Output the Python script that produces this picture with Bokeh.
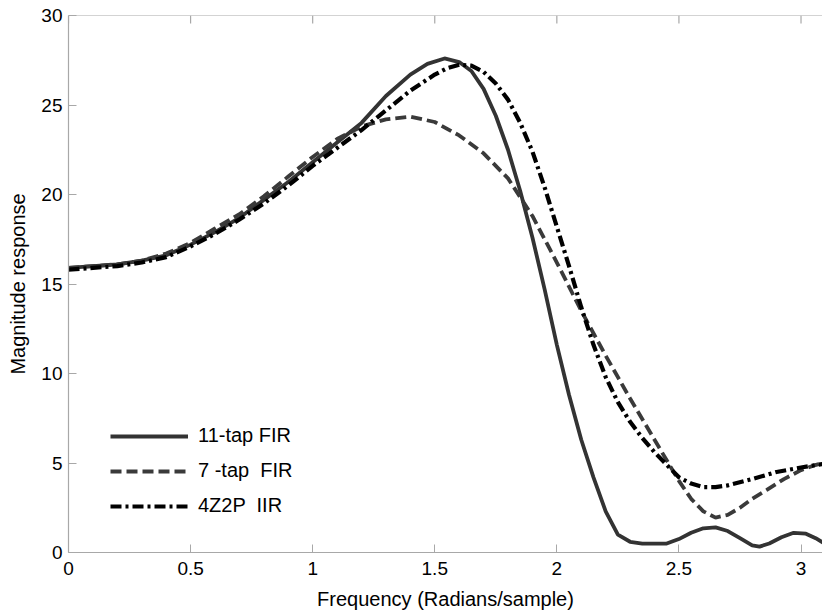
import math
from bokeh.plotting import figure
from bokeh.models import Range1d, Legend, LegendItem, FixedTicker, Span
from bokeh.embed import file_html
from bokeh.resources import INLINE

# 11-tap FIR (solid)
fir11_x = [0.0, 0.1, 0.2, 0.3, 0.4, 0.5, 0.6, 0.7, 0.8, 0.9, 1.0, 1.1, 1.2, 1.3, 1.4, 1.47, 1.54,
           1.6, 1.65, 1.70, 1.75, 1.8, 1.85, 1.9, 1.95, 2.0, 2.05, 2.1, 2.15, 2.2, 2.25, 2.3, 2.35,
           2.4, 2.45, 2.5, 2.55, 2.6, 2.65, 2.7, 2.75, 2.8, 2.83, 2.87, 2.92, 2.97, 3.02, 3.06, 3.09]
fir11_y = [15.9, 16.0, 16.1, 16.3, 16.6, 17.2, 17.9, 18.7, 19.7, 20.7, 21.8, 22.9, 24.0, 25.5, 26.7, 27.3, 27.6,
           27.4, 26.9, 25.9, 24.4, 22.5, 20.2, 17.6, 14.7, 11.6, 8.8, 6.3, 4.2, 2.3, 1.0, 0.6, 0.5,
           0.5, 0.5, 0.75, 1.1, 1.35, 1.4, 1.2, 0.8, 0.4, 0.33, 0.5, 0.85, 1.1, 1.05, 0.8, 0.55]

# 7-tap FIR (dashed)
fir7_x = [0.0, 0.1, 0.2, 0.3, 0.4, 0.5, 0.6, 0.7, 0.8, 0.9, 1.0, 1.1, 1.2, 1.3, 1.4, 1.5, 1.6, 1.7,
          1.8, 1.9, 2.0, 2.1, 2.2, 2.3, 2.4, 2.5, 2.55, 2.6, 2.65, 2.7, 2.75, 2.8, 2.86, 2.93, 3.0, 3.05, 3.09]
fir7_y = [15.9, 16.0, 16.1, 16.3, 16.7, 17.3, 18.1, 18.9, 19.9, 21.0, 22.1, 23.1, 23.8, 24.2, 24.35, 24.05, 23.3, 22.3,
          20.9, 18.8, 16.2, 13.5, 11.0, 8.6, 6.3, 4.0, 3.0, 2.3, 1.95, 2.1, 2.5, 3.0, 3.5, 4.1, 4.6, 4.85, 5.0]

# 4Z2P IIR (dash-dot)
iir_x = [0.0, 0.1, 0.2, 0.3, 0.4, 0.5, 0.6, 0.7, 0.8, 0.9, 1.0, 1.1, 1.2, 1.3, 1.4, 1.5, 1.55, 1.6,
         1.65, 1.70, 1.75, 1.8, 1.85, 1.9, 1.95, 2.0, 2.05, 2.1, 2.15, 2.2, 2.25, 2.3, 2.35, 2.4, 2.45,
         2.5, 2.55, 2.6, 2.65, 2.7, 2.8, 2.9, 3.0, 3.09]
iir_y = [15.8, 15.9, 16.0, 16.2, 16.5, 17.1, 17.8, 18.6, 19.5, 20.5, 21.6, 22.6, 23.6, 24.7, 25.8, 26.7, 27.05, 27.25,
         27.2, 26.85, 26.2, 25.3, 24.0, 22.4, 20.4, 18.2, 16.0, 13.7, 11.6, 9.8, 8.4, 7.3, 6.4, 5.6, 4.9,
         4.2, 3.85, 3.65, 3.65, 3.75, 4.1, 4.5, 4.75, 4.95]

labels = ["11-tap FIR", "7 -tap  FIR", "4Z2P  IIR"]
x_ticks = [0, 0.5, 1, 1.5, 2, 2.5, 3]
y_ticks = [0, 5, 10, 15, 20, 25, 30]
y_top = 30

FONT = "Liberation Sans"
AX = "#a8a8a8"

p = figure(width=822, height=612, output_backend="svg", toolbar_location=None,
           x_range=Range1d(0, 3.088), y_range=Range1d(0, y_top),
           min_border_left=68, min_border_top=15, min_border_right=0, min_border_bottom=59,
           x_axis_label="Frequency (Radians/sample)", y_axis_label="Magnitude response")
p.outline_line_color = None
p.grid.visible = False
p.background_fill_color = "white"
p.border_fill_color = "white"

r1 = p.line(fir11_x, fir11_y, line_color="#333333", line_width=3.8)
r2 = p.line(fir7_x, fir7_y, line_color="#3a3a3a", line_width=3.8, line_dash="11 5")
r3 = p.line(iir_x, iir_y, line_color="#000000", line_width=4.2, line_dash="11 4 3 4")

# top border of the box with inward ticks
p.add_layout(Span(location=y_top, dimension="width", line_color=AX, line_width=1.2))
p.ray(x=x_ticks, y=[y_top] * len(x_ticks), length=8, length_units="screen",
      angle=-math.pi / 2, line_color=AX, line_width=1.2)

xa = p.below[0]
ya = p.left[0]
for ax in [xa, ya]:
    ax.axis_line_color = AX
    ax.axis_line_width = 1.2
    ax.major_tick_line_color = AX
    ax.major_tick_in = 8
    ax.major_tick_out = 0
    ax.minor_tick_line_color = None
    ax.major_label_text_font = FONT
    ax.major_label_text_font_size = "19px"
    ax.major_label_text_color = "black"
    ax.axis_label_text_font = FONT
    ax.axis_label_text_font_size = "20px"
    ax.axis_label_text_font_style = "normal"
    ax.axis_label_text_color = "black"

xa.ticker = FixedTicker(ticks=x_ticks)
ya.ticker = FixedTicker(ticks=y_ticks)
xa.major_label_standoff = 9
xa.axis_label_standoff = 10
ya.major_label_standoff = 6
ya.axis_label_standoff = 9

legend = Legend(items=[LegendItem(label=labels[0], renderers=[r1]),
                       LegendItem(label=labels[1], renderers=[r2]),
                       LegendItem(label=labels[2], renderers=[r3])],
                location=(42, 35))
legend.border_line_color = None
legend.background_fill_alpha = 0
legend.padding = 0
legend.margin = 0
legend.spacing = 12
legend.glyph_width = 78
legend.glyph_height = 22
legend.label_height = 22
legend.label_standoff = 10
legend.label_text_font = FONT
legend.label_text_font_size = "20px"
legend.label_text_color = "black"
p.add_layout(legend)

open("out.html", "w").write(file_html(p, INLINE))
